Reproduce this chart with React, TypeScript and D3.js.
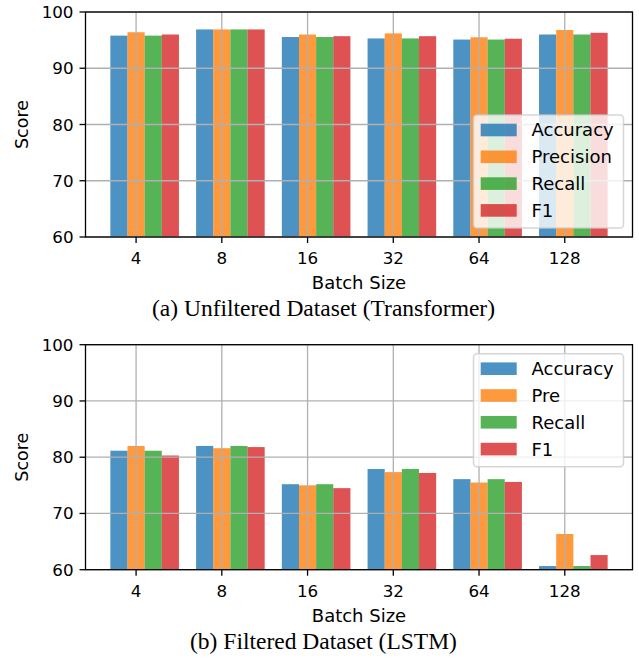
import * as d3 from "d3"

// batch sizes on the x axis
const batchSizes = ["4", "8", "16", "32", "64", "128"]

const namesA = ["Accuracy", "Precision", "Recall", "F1"]
const namesB = ["Accuracy", "Pre", "Recall", "F1"]

// (a) Transformer, unfiltered
const trAccuracy = [95.8, 96.9, 95.55, 95.3, 95.1, 96.0]
const trPrecision = [96.4, 96.9, 96.0, 96.2, 95.5, 96.8]
const trRecall = [95.8, 96.9, 95.55, 95.3, 95.1, 96.0]
const trF1 = [96.0, 96.9, 95.7, 95.7, 95.25, 96.3]

// (b) LSTM, filtered
const lsAccuracy = [81.15, 82.0, 75.2, 77.9, 76.1, 60.65]
const lsPrecision = [82.0, 81.6, 75.0, 77.35, 75.5, 66.35]
const lsRecall = [81.15, 82.0, 75.2, 77.9, 76.1, 60.65]
const lsF1 = [80.3, 81.8, 74.5, 77.2, 75.6, 62.6]

const yTicks = [60, 70, 80, 90, 100]

const COLORS = ["#1f77b4", "#ff7f0e", "#2ca02c", "#d62728"]
const GRID = "#b0b0b0"
const SANS = "'DejaVu Sans', sans-serif"
const SERIF = "'Liberation Serif', 'Times New Roman', serif"

const W = 639
const H = 658
const LEFT = 85.5
const RIGHT = 632.5
const BAR_W = 0.2

interface PanelProps {
  id: string
  top: number
  bottom: number
  names: string[]
  series: number[][]
  caption: string
}

function Panel({ id, top, bottom, names, series, caption }: PanelProps) {
  const x = d3.scaleLinear().domain([-0.59, 5.79]).range([LEFT, RIGHT])
  const y = d3.scaleLinear().domain([60, 100]).range([bottom, top])
  const px = (v: number) => x(v) - x(0)

  // legend box
  const fs = 18
  const legW = 150
  const legH = 113
  const legX = RIGHT - 9 - legW
  const legY = id === "a" ? bottom - 9 - legH : top + 9

  return (
    <g>
      <defs>
        <clipPath id={`clip-${id}`}>
          <rect x={LEFT} y={top} width={RIGHT - LEFT} height={bottom - top} />
        </clipPath>
      </defs>

      {/* bars */}
      <g clipPath={`url(#clip-${id})`}>
        {series.map((vals, s) =>
          vals.map((v, i) => {
            const cx = i + (s - 1) * BAR_W
            return (
              <rect
                key={`${s}-${i}`}
                x={x(cx - BAR_W / 2)}
                y={y(v)}
                width={px(BAR_W)}
                height={y(0) - y(v)}
                fill={COLORS[s]}
                fillOpacity={0.8}
              />
            )
          })
        )}
      </g>

      {/* grid, drawn above the bars like matplotlib's default */}
      {yTicks.map((t) => (
        <line key={`gy${t}`} x1={LEFT} x2={RIGHT} y1={y(t)} y2={y(t)} stroke={GRID} strokeWidth={1.3} />
      ))}
      {batchSizes.map((_, i) => (
        <line key={`gx${i}`} x1={x(i)} x2={x(i)} y1={top} y2={bottom} stroke={GRID} strokeWidth={1.3} />
      ))}

      {/* spines */}
      <rect x={LEFT} y={top} width={RIGHT - LEFT} height={bottom - top} fill="none" stroke="#000" strokeWidth={1.3} />

      {/* y ticks */}
      {yTicks.map((t) => (
        <g key={`yt${t}`}>
          <line x1={LEFT - 6} x2={LEFT} y1={y(t)} y2={y(t)} stroke="#000" strokeWidth={1.3} />
          <text x={LEFT - 12} y={y(t)} dy="0.36em" textAnchor="end" fontFamily={SANS} fontSize={16.7} fill="#000">
            {t}
          </text>
        </g>
      ))}

      {/* x ticks */}
      {batchSizes.map((b, i) => (
        <g key={`xt${b}`}>
          <line x1={x(i)} x2={x(i)} y1={bottom} y2={bottom + 6} stroke="#000" strokeWidth={1.3} />
          <text x={x(i)} y={bottom + 27.3} textAnchor="middle" fontFamily={SANS} fontSize={16.7} fill="#000">
            {b}
          </text>
        </g>
      ))}

      {/* axis titles */}
      <text x={(LEFT + RIGHT) / 2} y={bottom + 52} textAnchor="middle" fontFamily={SANS} fontSize={18} fill="#000">
        Batch Size
      </text>
      <text
        transform={`translate(21.8, ${(top + bottom) / 2}) rotate(-90)`}
        dy="0.36em"
        textAnchor="middle"
        fontFamily={SANS}
        fontSize={17.5}
        fill="#000"
      >
        Score
      </text>

      {/* legend */}
      <rect
        x={legX}
        y={legY}
        width={legW}
        height={legH}
        rx={3.6}
        fill="#fff"
        fillOpacity={0.8}
        stroke="#cccccc"
        strokeOpacity={0.8}
        strokeWidth={1.5}
      />
      {names.map((n, s) => {
        const cy = legY + 15 + s * 26.8
        return (
          <g key={n}>
            <rect x={legX + 7.2} y={cy - 6.3} width={36} height={12.6} fill={COLORS[s]} fillOpacity={0.8} />
            <text x={legX + 58} y={cy} dy="0.36em" fontFamily={SANS} fontSize={fs} fill="#000">
              {n}
            </text>
          </g>
        )
      })}

      {/* caption */}
      <text x={323.5} y={bottom + 79} textAnchor="middle" fontFamily={SERIF} fontSize={23.5} fill="#000">
        {caption}
      </text>
    </g>
  )
}

export default function App() {
  return (
    <svg
      width={W}
      height={H}
      viewBox={`0 0 ${W} ${H}`}
      style={{ position: "absolute", left: 0, top: 0, background: "#fff" }}
    >
      <Panel
        id="a"
        top={12}
        bottom={237}
        names={namesA}
        series={[trAccuracy, trPrecision, trRecall, trF1]}
        caption="(a) Unfiltered Dataset (Transformer)"
      />
      <Panel
        id="b"
        top={344.7}
        bottom={569.7}
        names={namesB}
        series={[lsAccuracy, lsPrecision, lsRecall, lsF1]}
        caption="(b) Filtered Dataset (LSTM)"
      />
    </svg>
  )
}
